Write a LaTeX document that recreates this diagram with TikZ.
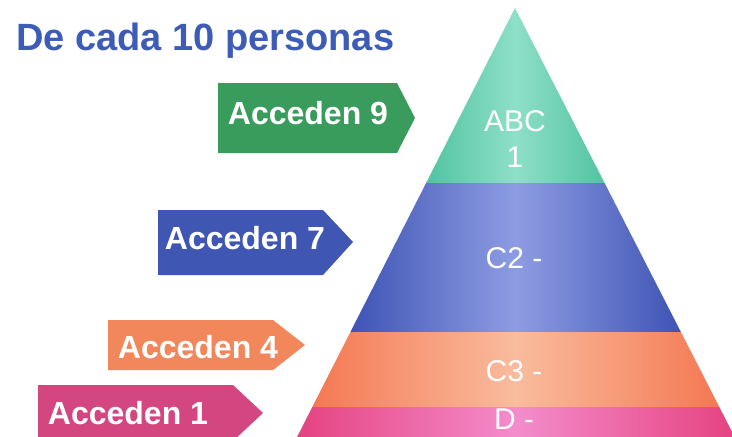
\documentclass[tikz,border=0pt]{standalone}
\usepackage{fontspec}
\setmainfont{Liberation Sans}
\begin{document}
\begin{tikzpicture}[x=1pt,y=-1pt,
  arrowtext/.style={text=white,inner sep=0pt,font=\fontsize{32}{34}\selectfont\bfseries},
  bandtext/.style={text=white,inner sep=0pt,font=\fontsize{30}{36}\selectfont,align=center},
  bandshade/.style 2 args={left color=#1,right color=#1,middle color=#2}]
\definecolor{titleblue}{HTML}{3D5CB8}
\definecolor{greenA}{HTML}{3A9C5C}
\definecolor{blueA}{HTML}{3F56B2}
\definecolor{orangeA}{HTML}{F2875C}
\definecolor{pinkA}{HTML}{D4467F}
\definecolor{tealD}{HTML}{52C3A0}
\definecolor{tealL}{HTML}{8EDFC8}
\definecolor{blueD}{HTML}{3E54B4}
\definecolor{blueL}{HTML}{8D9CE2}
\definecolor{orD}{HTML}{F47852}
\definecolor{orL}{HTML}{F9BC9E}
\definecolor{pkD}{HTML}{E5407E}
\definecolor{pkL}{HTML}{F48CCB}
\useasboundingbox (0,0) rectangle (732,437);
\clip (0,0) rectangle (732,437);
\fill[white] (0,0) rectangle (732,437);
% title
\node[anchor=base west,inner sep=0pt,text=titleblue,font=\fontsize{38}{40}\selectfont\bfseries] (title) at (16,50) {De cada 10 personas};
% pyramid bands
\coordinate (apex) at (515,8);
\path[bandshade={tealD}{tealL}] (apex) -- (604.6,183) -- (426.1,183) -- cycle;
\path[bandshade={blueD}{blueL}] (426.1,183) -- (604.6,183) -- (680.9,332) -- (350.4,332) -- cycle;
\path[bandshade={orD}{orL}] (350.4,332) -- (680.9,332) -- (719.3,407) -- (312.3,407) -- cycle;
\path[bandshade={pkD}{pkL}] (312.3,407) -- (719.3,407) -- (741.3,450) -- (290.5,450) -- cycle;
\node[bandtext] (abc) at (515,139) {ABC\\1};
\node[bandtext] (c2) at (514,258) {C2 -};
\node[bandtext] (c3) at (514,371) {C3 -};
\node[bandtext] (d) at (514,419) {D -};
% arrows
\fill[greenA] (218,83) -- (397,83) -- (415,118) -- (397,153) -- (218,153) -- cycle;
\node[arrowtext] (a9) at (308,113) {Acceden 9};
\fill[blueA] (158,210) -- (323,210) -- (353,242) -- (323,275) -- (158,275) -- cycle;
\node[arrowtext] (a7) at (245,238) {Acceden 7};
\fill[orangeA] (108,320) -- (273,320) -- (305,345) -- (273,370) -- (108,370) -- cycle;
\node[arrowtext] (a4) at (198,347) {Acceden 4};
\fill[pinkA] (38,385) -- (233,385) -- (263,413) -- (233,441) -- (38,441) -- cycle;
\node[arrowtext] (a1) at (128,413) {Acceden 1};
\end{tikzpicture}
\end{document}
